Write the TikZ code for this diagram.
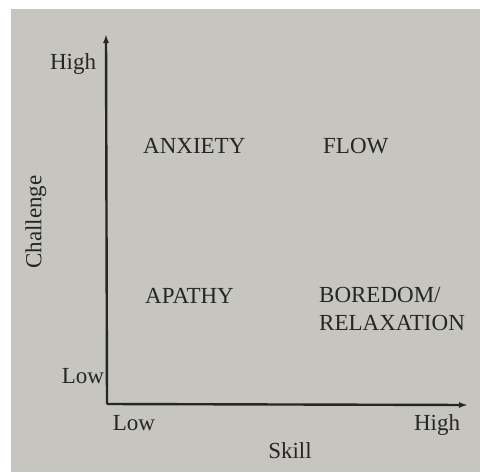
\documentclass[tikz,border=0pt]{standalone}
\usepackage{fontspec}
\setmainfont{Liberation Serif}
\usetikzlibrary{arrows.meta}
\definecolor{paper}{RGB}{198,197,192}
\definecolor{ink}{RGB}{38,38,38}
\tikzset{
  lbl/.style={text=ink, font=\fontsize{23}{26}\selectfont, inner sep=0pt},
  axis/.style={draw=ink, line width=2.4pt, -{Latex[length=9pt,width=6pt]}}
}
\begin{document}
\begin{tikzpicture}[x=1pt,y=-1pt]
\useasboundingbox (0,0) rectangle (480,472);
\fill[white] (0,0) rectangle (480,472);
\fill[paper] (11,9) rectangle (480,472);
\coordinate (O) at (107,404);
\coordinate (ytop) at (106,34);
\coordinate (xend) at (468,405);
\draw[axis] (O) -- (ytop);
\draw[axis] (O) -- (xend);
\node[lbl] (yhigh) at (73,64) {High};
\node[lbl] (ylow) at (83,376) {Low};
\node[lbl] (xlow) at (134,423) {Low};
\node[lbl] (xhigh) at (437,425) {High};
\node[lbl] (skill) at (290,451) {Skill};
\node[lbl, rotate=90] (chal) at (36,222) {Challenge};
\node[lbl, anchor=west] (anx) at (143,146) {ANXIETY};
\node[lbl, anchor=west] (flow) at (323,146) {FLOW};
\node[lbl, anchor=west] (apa) at (145,296) {APATHY};
\node[lbl, anchor=west, align=left, font=\fontsize{23}{28}\selectfont] (bor) at (319,309) {BOREDOM/\\RELAXATION};
\end{tikzpicture}
\end{document}
